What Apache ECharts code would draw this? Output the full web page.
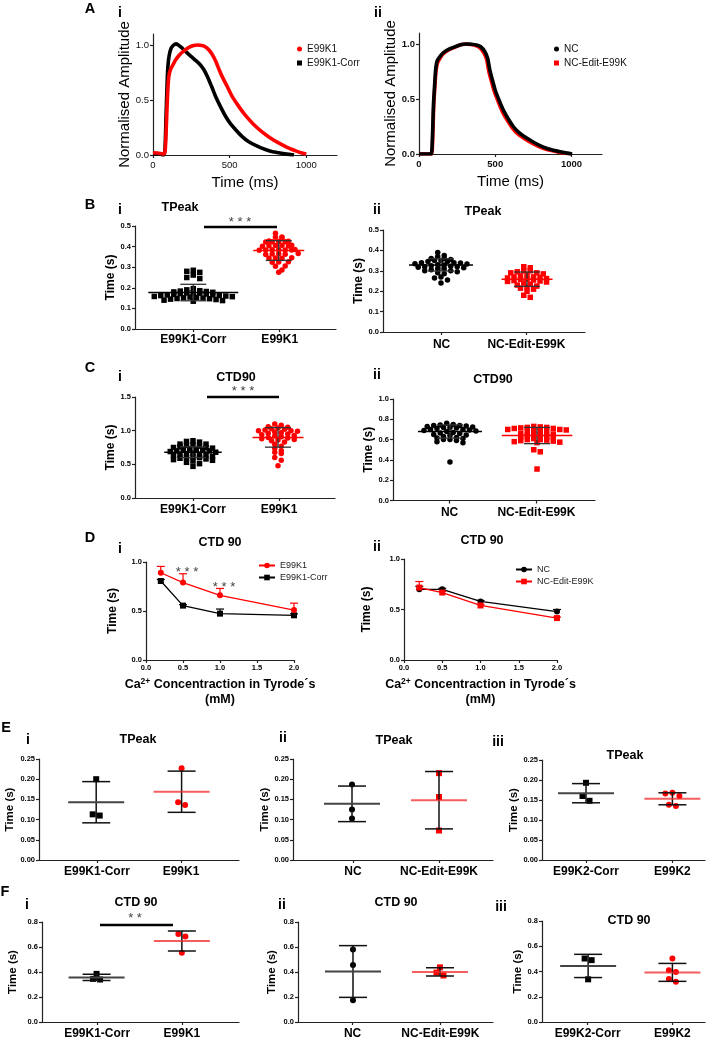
<!DOCTYPE html>
<html><head><meta charset="utf-8">
<script src="https://cdn.jsdelivr.net/npm/echarts@6/dist/echarts.min.js"></script>
<style>html,body{margin:0;padding:0;background:#fff}#c{width:710px;height:1040px}</style>
</head><body><div id="c"></div>
<script>
const FONT = 'Liberation Sans, Arial, Helvetica, sans-serif';
// ================= DATA =================
// Panel A (time ms, normalised amplitude)
const A_xTicks = [0, 500, 1000];
const A_yTicks = [0, 0.5, 1.0];
const A1_e99k1 = [[0,0.02],[30,0.018],[60,0.012],[72,0.01],[80,0.05],[88,0.3],[95,0.55],[103,0.71],[115,0.78],[130,0.82],[150,0.87],[172,0.91],[200,0.945],[237,0.98],[265,0.995],[290,1.0],[320,0.995],[345,0.98],[368,0.95],[388,0.91],[410,0.85],[430,0.78],[452,0.71],[485,0.62],[517,0.53],[560,0.44],[603,0.36],[655,0.28],[711,0.21],[765,0.155],[819,0.11],[875,0.07],[927,0.04],[965,0.02],[1000,0.01]];
const A1_corr = [[0,0.01],[40,0.012],[55,0.005],[70,0.0],[78,0.05],[85,0.35],[92,0.65],[97,0.8],[105,0.9],[118,0.97],[135,1.0],[150,1.01],[165,1.0],[183,0.98],[210,0.945],[237,0.91],[270,0.87],[302,0.83],[330,0.78],[356,0.71],[383,0.62],[409,0.53],[440,0.44],[474,0.35],[505,0.285],[539,0.23],[580,0.17],[625,0.12],[680,0.08],[733,0.05],[780,0.03],[819,0.02],[860,0.01],[905,0.003],[920,0.0]];
const A2_nc = [[0,0.0],[60,0.0],[80,0.0],[88,0.15],[95,0.45],[103,0.64],[110,0.78],[120,0.85],[140,0.89],[158,0.92],[200,0.955],[246,0.98],[280,0.995],[311,1.0],[345,0.997],[377,0.99],[405,0.975],[432,0.93],[450,0.87],[465,0.76],[482,0.67],[500,0.58],[525,0.49],[553,0.4],[585,0.32],[618,0.25],[660,0.19],[706,0.145],[760,0.1],[816,0.063],[870,0.038],[925,0.02],[970,0.008],[1004,0.0]];
const A2_edit = [[0,0.0],[60,0.0],[82,0.0],[90,0.15],[97,0.45],[105,0.63],[112,0.76],[122,0.83],[140,0.875],[158,0.91],[200,0.95],[246,0.978],[280,0.995],[305,1.0],[340,0.995],[372,0.985],[400,0.965],[425,0.92],[443,0.86],[458,0.75],[475,0.66],[493,0.57],[518,0.48],[545,0.39],[577,0.31],[610,0.24],[650,0.18],[697,0.135],[750,0.092],[806,0.057],[860,0.033],[915,0.017],[960,0.007],[1000,0.0]];

// Panel B (TPeak, s)
const B1_cats = ['E99K1-Corr', 'E99K1'];
const B1_corr = [0.285,0.28,0.275,0.262,0.25,0.245,0.196,0.19,0.186,0.184,0.182,0.18,0.178,0.176,0.175,0.174,0.172,0.17,0.168,0.166,0.165,0.163,0.162,0.16,0.158,0.157,0.155,0.154,0.152,0.15,0.148,0.147,0.145,0.143,0.14,0.138,0.135];
const B1_e99k1 = [0.465,0.446,0.445,0.443,0.427,0.426,0.425,0.424,0.423,0.422,0.406,0.405,0.405,0.404,0.403,0.402,0.386,0.385,0.385,0.384,0.384,0.383,0.382,0.366,0.365,0.364,0.363,0.362,0.346,0.345,0.344,0.343,0.326,0.325,0.324,0.306,0.305,0.287,0.276];
const B1_mean = [0.177, 0.381];
const B1_sd = [0.04, 0.048];
const B2_cats = ['NC', 'NC-Edit-E99K'];
const B2_nc = [0.39,0.375,0.37,0.36,0.36,0.355,0.35,0.35,0.345,0.345,0.34,0.34,0.338,0.335,0.333,0.33,0.328,0.325,0.322,0.32,0.32,0.318,0.315,0.31,0.31,0.305,0.3,0.3,0.295,0.29,0.285,0.27,0.265,0.255,0.24];
const B2_edit = [0.32,0.315,0.3,0.3,0.295,0.29,0.29,0.285,0.28,0.275,0.27,0.27,0.268,0.265,0.262,0.26,0.258,0.255,0.252,0.25,0.248,0.245,0.24,0.235,0.23,0.225,0.22,0.215,0.21,0.2,0.18,0.17];
const B2_mean = [0.329, 0.259];
const B2_sd = [0.03, 0.035];

// Panel C (CTD90, s)
const C1_corr = [0.85,0.84,0.83,0.8,0.8,0.79,0.78,0.77,0.76,0.75,0.75,0.74,0.73,0.72,0.72,0.71,0.7,0.7,0.69,0.68,0.67,0.66,0.65,0.65,0.64,0.63,0.62,0.61,0.6,0.6,0.59,0.58,0.57,0.56,0.55,0.53,0.51,0.47];
const C1_e99k1 = [1.1,1.08,1.06,1.05,1.04,1.03,1.02,1.01,1.0,1.0,0.99,0.98,0.97,0.96,0.95,0.94,0.93,0.92,0.91,0.9,0.89,0.88,0.87,0.86,0.85,0.83,0.8,0.77,0.74,0.7,0.68,0.66,0.6,0.56,0.48];
const C1_mean = [0.68, 0.90];
const C1_sd = [0.08, 0.145];
const C2_nc = [0.76,0.75,0.745,0.74,0.74,0.735,0.73,0.725,0.72,0.72,0.715,0.71,0.7,0.7,0.695,0.69,0.685,0.68,0.67,0.665,0.66,0.65,0.645,0.64,0.63,0.62,0.615,0.61,0.6,0.6,0.59,0.58,0.57,0.38];
const C2_edit = [0.73,0.725,0.72,0.72,0.715,0.71,0.71,0.7,0.7,0.695,0.69,0.68,0.675,0.67,0.66,0.655,0.65,0.645,0.64,0.63,0.625,0.62,0.61,0.6,0.6,0.595,0.59,0.585,0.58,0.575,0.57,0.5,0.48,0.31];
const C2_mean = [0.68, 0.64];
const C2_sd = [0.065, 0.08];

// Panel D (CTD 90 vs Ca2+ concentration)
const D_conc = [0.2, 0.5, 1.0, 2.0];
const D1_e99k1 = [0.89, 0.79, 0.66, 0.51];
const D1_e99k1_err = [0.065, 0.09, 0.07, 0.07];
const D1_corr = [0.806, 0.555, 0.473, 0.456];
const D1_corr_err = [0.015, 0.01, 0.047, 0.015];
const D2_nc = [0.70, 0.70, 0.58, 0.48];
const D2_nc_err = [0.03, 0.01, 0.01, 0.02];
const D2_edit = [0.717, 0.668, 0.54, 0.415];
const D2_edit_err = [0.06, 0.01, 0.01, 0.01];

// Panel E (TPeak, s)
const E3_cats = ['E99K2-Corr', 'E99K2'];
const E1_corr = [0.200, 0.113, 0.110];
const E1_e99k1 = [0.227, 0.143, 0.136];
const E1_mean = [0.143, 0.169];
const E1_sd = [0.051, 0.051];
const E2_nc = [0.187, 0.125, 0.103];
const E2_edit = [0.215, 0.156, 0.073];
const E2_mean = [0.139, 0.148];
const E2_sd = [0.044, 0.071];
const E3_corr = [0.193, 0.160, 0.148];
const E3_e99k2 = [0.168, 0.166, 0.160, 0.138, 0.135];
const E3_mean = [0.167, 0.153];
const E3_sd = [0.024, 0.015];

// Panel F (CTD 90, s)
const F1_corr = [0.385, 0.345, 0.340];
const F1_e99k1 = [0.705, 0.685, 0.555];
const F1_mean = [0.357, 0.648];
const F1_sd = [0.025, 0.080];
const F2_nc = [0.58, 0.457, 0.175];
const F2_edit = [0.437, 0.395, 0.372];
const F2_mean = [0.404, 0.401];
const F2_sd = [0.207, 0.033];
const F3_corr = [0.503, 0.49, 0.338];
const F3_e99k2 = [0.503, 0.41, 0.396, 0.34, 0.318];
const F3_mean = [0.444, 0.393];
const F3_sd = [0.092, 0.071];

// ================= BUILD =================
const AX = '#222', AXW = 1.2;
const RED = '#ff0000';
const option = {animation:false, backgroundColor:'#fff', textStyle:{fontFamily:FONT},
  grid:[], xAxis:[], yAxis:[], series:[], legend:[], graphic:{elements:[]}};
const G = option.graphic.elements;
const legendFmt = n => n.split('|')[0];

function txt(text, x, y, size, weight, color){
  G.push({type:'text', x:x, y:y, z:100, style:{text:text, fontSize:size, fontWeight:weight||'bold', fontFamily:FONT, fill:color||'#000', align:'center', verticalAlign:'middle'}});
}
function hline(x1, x2, y, w){
  G.push({type:'line', z:100, shape:{x1:x1,y1:y,x2:x2,y2:y}, style:{stroke:'#000', lineWidth:w||2.5}});
}

function swarm(values, pxPerUnit, rowH, dx){
  const idx = values.map((v,i)=>i).sort((a,b)=>values[b]-values[a]);
  const out = new Array(values.length).fill(0);
  let i = 0;
  while (i < idx.length){
    const v0 = values[idx[i]]; let j = i;
    while (j < idx.length && (v0 - values[idx[j]]) * pxPerUnit < rowH) j++;
    const n = j - i;
    const order = [];
    for (let k=0;k<n;k++) order.push((k-(n-1)/2)*dx);
    order.sort((a,b)=>Math.abs(a)-Math.abs(b));
    for (let k=0;k<n;k++) out[idx[i+k]] = order[k];
    i = j;
  }
  return out;
}

function addCurvePanel(s){
  const gi = option.grid.length, xi = option.xAxis.length, yi = option.yAxis.length;
  option.grid.push({left:s.left, top:s.top, width:s.width, height:s.height});
  option.xAxis.push({type:'value', gridIndex:gi, min:0, max:1200,
    axisLine:{show:true, onZero:false, lineStyle:{color:AX,width:AXW}},
    axisTick:{show:true, length:3, customValues:A_xTicks, lineStyle:{color:AX,width:AXW}},
    axisLabel:{customValues:A_xTicks, formatter:v=>String(v), fontSize:9.5, fontWeight:s.tickWeight, color:'#111', margin:5, fontFamily:FONT},
    splitLine:{show:false},
    name:'Time (ms)', nameLocation:'middle', nameGap:20, nameTextStyle:{fontSize:15, color:'#000', fontFamily:FONT}});
  option.yAxis.push({type:'value', gridIndex:gi, min:0, max:1.1,
    axisLine:{show:true, onZero:false, lineStyle:{color:AX,width:AXW}},
    axisTick:{show:true, length:3, customValues:A_yTicks, lineStyle:{color:AX,width:AXW}},
    axisLabel:{customValues:A_yTicks, formatter:v=>v.toFixed(1), fontSize:9.5, fontWeight:s.tickWeight, color:'#111', margin:4, fontFamily:FONT},
    splitLine:{show:false},
    name:'Normalised Amplitude', nameLocation:'middle', nameGap:s.yNameGap, nameTextStyle:{fontSize:15, color:'#000', fontFamily:FONT}});
  s.curves.forEach(c => option.series.push({type:'line', name:c.name, xAxisIndex:xi, yAxisIndex:yi, data:c.data,
    showSymbol:false, symbol:'none', smooth:0.25, z:c.z, lineStyle:{color:c.color, width:3.6}, itemStyle:{color:c.color}}));
  option.legend.push({left:s.legendLeft, top:s.legendTop, orient:'vertical', itemGap:4, itemWidth:5, itemHeight:5,
    formatter:legendFmt, textStyle:{fontSize:10, color:'#111', fontFamily:FONT}, selectedMode:false,
    data:s.legend.map(l=>({name:l.name, icon:l.icon}))});
}

function addDotPanel(s){
  const gi = option.grid.length, xc = option.xAxis.length, yi = option.yAxis.length;
  option.grid.push({left:s.left, top:s.top, width:s.width, height:s.height});
  const catData = Array.from({length:101}, ()=> '');
  s.fracs.forEach((f,k)=>{ catData[Math.round(f*100)] = s.cats[k]; });
  option.xAxis.push({type:'category', gridIndex:gi, data:catData, boundaryGap:false,
    axisLine:{show:true, onZero:false, lineStyle:{color:AX,width:AXW}},
    axisTick:{show:true, length:3, interval:(i,v)=>v!=='', lineStyle:{color:AX,width:AXW}},
    axisLabel:{interval:(i,v)=>v!=='', margin:s.labelMargin, fontSize:s.catFont||12, fontWeight:'bold', color:'#000', fontFamily:FONT},
    splitLine:{show:false}});
  option.xAxis.push({type:'value', gridIndex:gi, min:0, max:s.width, show:false});
  option.yAxis.push({type:'value', gridIndex:gi, min:0, max:s.yMax, interval:s.yStep,
    axisLine:{show:true, onZero:false, lineStyle:{color:AX,width:AXW}},
    axisTick:{show:true, length:3, lineStyle:{color:AX,width:AXW}},
    axisLabel:{formatter:v=>v.toFixed(s.yDec), fontSize:7.5, fontWeight:'bold', color:'#000', margin:4, fontFamily:FONT},
    splitLine:{show:false},
    name:'Time (s)', nameLocation:'middle', nameGap:s.yNameGap, nameTextStyle:{fontSize:s.yNameFont||12, fontWeight:'bold', color:'#000', fontFamily:FONT}});
  const ppu = s.height / s.yMax;
  const barData = [];
  s.groups.forEach((g,k)=>{
    const center = s.fracs[k] * s.width;
    const offs = swarm(g.values, ppu, s.rowH, s.dx);
    const maxOff = Math.max.apply(null, offs.map(Math.abs));
    option.series.push({type:'scatter', xAxisIndex:xc+1, yAxisIndex:yi, z:3,
      symbol:g.symbol, symbolSize:s.symbolSize, itemStyle:{color:g.color, opacity:1},
      data:g.values.map((v,i)=>[center+offs[i], v])});
    barData.push([center, g.mean, g.sd, s.meanHalf != null ? s.meanHalf : maxOff + 6, s.capHalf, k]);
  });
  const groups = s.groups;
  option.series.push({type:'custom', xAxisIndex:xc+1, yAxisIndex:yi, z:5, data:barData,
    renderItem:(p, api)=>{
      const g = groups[api.value(5)];
      const m = api.coord([api.value(0), api.value(1)]);
      const t = api.coord([api.value(0), api.value(1)+api.value(2)]);
      const b = api.coord([api.value(0), api.value(1)-api.value(2)]);
      const mh = api.value(3), ch = api.value(4);
      const L = (x1,y1,x2,y2,c,w)=>({type:'line', shape:{x1,y1,x2,y2}, style:{stroke:c, lineWidth:w}});
      return {type:'group', children:[
        L(t[0],t[1],b[0],b[1], s.barColor, s.barW),
        L(t[0]-ch,t[1],t[0]+ch,t[1], s.barColor, s.barW),
        L(b[0]-ch,b[1],b[0]+ch,b[1], s.barColor, s.barW),
        L(m[0]-mh,m[1],m[0]+mh,m[1], g.meanColor, s.meanW)
      ]};
    }});
}

function addConcPanel(s){
  const gi = option.grid.length, xi = option.xAxis.length, yi = option.yAxis.length;
  option.grid.push({left:s.left, top:s.top, width:s.width, height:s.height});
  option.xAxis.push({type:'value', gridIndex:gi, min:0, max:2, interval:0.5,
    axisLine:{show:true, onZero:false, lineStyle:{color:AX,width:AXW}},
    axisTick:{show:true, length:3, lineStyle:{color:AX,width:AXW}},
    axisLabel:{formatter:v=>v.toFixed(1), fontSize:7.5, fontWeight:'bold', color:'#000', margin:4, fontFamily:FONT},
    splitLine:{show:false},
    name:'{b|Ca}{s|2+}{b| Concentraction in Tyrode\u00b4s}\n{b|(mM)}', nameLocation:'middle', nameGap:17,
    nameTextStyle:{color:'#000', fontFamily:FONT, align:'center', rich:{
      b:{fontSize:12.5, fontWeight:'bold', lineHeight:15, color:'#000', fontFamily:FONT},
      s:{fontSize:8.5, fontWeight:'bold', lineHeight:15, verticalAlign:'top', color:'#000', fontFamily:FONT}}}});
  option.yAxis.push({type:'value', gridIndex:gi, min:0, max:1, interval:0.5,
    axisLine:{show:true, onZero:false, lineStyle:{color:AX,width:AXW}},
    axisTick:{show:true, length:3, lineStyle:{color:AX,width:AXW}},
    axisLabel:{formatter:v=>v.toFixed(1), fontSize:7.5, fontWeight:'bold', color:'#000', margin:4, fontFamily:FONT},
    splitLine:{show:false},
    name:'Time (s)', nameLocation:'middle', nameGap:s.yNameGap, nameTextStyle:{fontSize:12, fontWeight:'bold', color:'#000', fontFamily:FONT}});
  s.lines.forEach(l=>{
    option.series.push({type:'line', name:l.name, xAxisIndex:xi, yAxisIndex:yi, z:l.z,
      data:D_conc.map((x,i)=>[x, l.vals[i]]), symbol:l.symbol, symbolSize:6, showSymbol:true,
      lineStyle:{color:l.color, width:1.3}, itemStyle:{color:l.color}});
    option.series.push({type:'custom', xAxisIndex:xi, yAxisIndex:yi, z:l.z,
      data:D_conc.map((x,i)=>[x, l.vals[i], l.errs[i]]),
      renderItem:(p, api)=>{
        const a = api.coord([api.value(0), api.value(1)]);
        const b = api.coord([api.value(0), api.value(1)+api.value(2)]);
        return {type:'group', children:[
          {type:'line', shape:{x1:a[0],y1:a[1],x2:b[0],y2:b[1]}, style:{stroke:l.color, lineWidth:1.2}},
          {type:'line', shape:{x1:b[0]-4,y1:b[1],x2:b[0]+4,y2:b[1]}, style:{stroke:l.color, lineWidth:1.2}}]};
      }});
  });
  option.legend.push({left:s.legendLeft, top:s.legendTop, orient:'vertical', itemGap:3, itemWidth:16, itemHeight:7,
    formatter:legendFmt, selectedMode:false, textStyle:{fontSize:9, color:'#222', fontFamily:FONT},
    data:s.lines.map(l=>l.name)});
}

// ---- Panel A ----
addCurvePanel({left:153, top:34, width:184, height:121, tickWeight:'normal', yNameGap:20,
  curves:[{name:'E99K1-Corr|Ai', data:A1_corr, color:'#000', z:2},{name:'E99K1|Ai', data:A1_e99k1, color:RED, z:3}],
  legendLeft:292, legendTop:39, legend:[{name:'E99K1|Ai', icon:'circle'},{name:'E99K1-Corr|Ai', icon:'rect'}]});
addCurvePanel({left:419, top:33, width:183, height:121, tickWeight:'bold', yNameGap:19,
  curves:[{name:'NC-Edit-E99K|Aii', data:A2_edit, color:RED, z:2},{name:'NC|Aii', data:A2_nc, color:'#000', z:3}],
  legendLeft:549, legendTop:39, legend:[{name:'NC|Aii', icon:'circle'},{name:'NC-Edit-E99K|Aii', icon:'rect'}]});

// ---- Panel B ----
const bcCommon = {rowH:4, dx:6.5, symbolSize:5.5, capHalf:13, barColor:'#333', barW:1.3, meanW:1.5, yNameGap:17};
addDotPanel(Object.assign({}, bcCommon, {left:135, top:226, width:201, height:103, yMax:0.5, yStep:0.1, yDec:1, labelMargin:5,
  cats:B1_cats, fracs:[0.29,0.715],
  groups:[{values:B1_corr, mean:B1_mean[0], sd:B1_sd[0], color:'#000', symbol:'rect', meanColor:'#000'},
          {values:B1_e99k1, mean:B1_mean[1], sd:B1_sd[1], color:RED, symbol:'circle', meanColor:RED}]}));
addDotPanel(Object.assign({}, bcCommon, {left:383, top:230, width:202, height:102, yMax:0.5, yStep:0.1, yDec:1, labelMargin:7,
  cats:B2_cats, fracs:[0.287,0.713],
  groups:[{values:B2_nc, mean:B2_mean[0], sd:B2_sd[0], color:'#000', symbol:'circle', meanColor:'#000'},
          {values:B2_edit, mean:B2_mean[1], sd:B2_sd[1], color:RED, symbol:'rect', meanColor:RED}]}));
// ---- Panel C ----
addDotPanel(Object.assign({}, bcCommon, {left:135, top:397, width:200, height:101, yMax:1.5, yStep:0.5, yDec:1, labelMargin:6,
  cats:B1_cats, fracs:[0.29,0.715],
  groups:[{values:C1_corr, mean:C1_mean[0], sd:C1_sd[0], color:'#000', symbol:'rect', meanColor:'#000'},
          {values:C1_e99k1, mean:C1_mean[1], sd:C1_sd[1], color:RED, symbol:'circle', meanColor:RED}]}));
addDotPanel(Object.assign({}, bcCommon, {left:393, top:399, width:202, height:101.5, yMax:1.0, yStep:0.2, yDec:1, labelMargin:6,
  cats:B2_cats, fracs:[0.282,0.713],
  groups:[{values:C2_nc, mean:C2_mean[0], sd:C2_sd[0], color:'#000', symbol:'circle', meanColor:'#000'},
          {values:C2_edit, mean:C2_mean[1], sd:C2_sd[1], color:RED, symbol:'rect', meanColor:RED}]}));

// ---- Panel D ----
addConcPanel({left:146, top:562, width:148, height:98, yNameGap:27, legendLeft:253, legendTop:556,
  lines:[{name:'E99K1|D', vals:D1_e99k1, errs:D1_e99k1_err, color:RED, symbol:'circle', z:3},
         {name:'E99K1-Corr|D', vals:D1_corr, errs:D1_corr_err, color:'#000', symbol:'rect', z:2}]});
addConcPanel({left:404, top:559, width:153, height:101, yNameGap:31, legendLeft:510, legendTop:560,
  lines:[{name:'NC|D', vals:D2_nc, errs:D2_nc_err, color:'#000', symbol:'circle', z:2},
         {name:'NC-Edit-E99K|D', vals:D2_edit, errs:D2_edit_err, color:RED, symbol:'rect', z:3}]});

// ---- Panels E, F ----
const efCommon = {rowH:5, dx:7, symbolSize:6, capHalf:14, meanHalf:28, barColor:'#111', barW:1.5, meanW:2, labelMargin:6, yNameFont:11.5, catFont:12};
const EMEAN_R = 'rgba(240,40,40,0.75)', EMEAN_K = '#444';
addDotPanel(Object.assign({}, efCommon, {left:39, top:759, width:200, height:101, yMax:0.25, yStep:0.05, yDec:2, yNameGap:23,
  cats:B1_cats, fracs:[0.286,0.713],
  groups:[{values:E1_corr, mean:E1_mean[0], sd:E1_sd[0], color:'#000', symbol:'rect', meanColor:EMEAN_K},
          {values:E1_e99k1, mean:E1_mean[1], sd:E1_sd[1], color:RED, symbol:'circle', meanColor:EMEAN_R}]}));
addDotPanel(Object.assign({}, efCommon, {left:293, top:759, width:200, height:101, yMax:0.25, yStep:0.05, yDec:2, yNameGap:19,
  cats:B2_cats, fracs:[0.295,0.73],
  groups:[{values:E2_nc, mean:E2_mean[0], sd:E2_sd[0], color:'#000', symbol:'circle', meanColor:EMEAN_K},
          {values:E2_edit, mean:E2_mean[1], sd:E2_sd[1], color:RED, symbol:'rect', meanColor:EMEAN_R}]}));
addDotPanel(Object.assign({}, efCommon, {left:542, top:760, width:163, height:100, yMax:0.25, yStep:0.05, yDec:2, yNameGap:21,
  cats:E3_cats, fracs:[0.27,0.80],
  groups:[{values:E3_corr, mean:E3_mean[0], sd:E3_sd[0], color:'#000', symbol:'rect', meanColor:EMEAN_K},
          {values:E3_e99k2, mean:E3_mean[1], sd:E3_sd[1], color:RED, symbol:'circle', meanColor:EMEAN_R}]}));
addDotPanel(Object.assign({}, efCommon, {left:42, top:922, width:197, height:100, yMax:0.8, yStep:0.2, yDec:1, yNameGap:23,
  cats:B1_cats, fracs:[0.277,0.71],
  groups:[{values:F1_corr, mean:F1_mean[0], sd:F1_sd[0], color:'#000', symbol:'rect', meanColor:EMEAN_K},
          {values:F1_e99k1, mean:F1_mean[1], sd:F1_sd[1], color:RED, symbol:'circle', meanColor:EMEAN_R}]}));
addDotPanel(Object.assign({}, efCommon, {left:298, top:922, width:195, height:100, yMax:0.8, yStep:0.2, yDec:1, yNameGap:20,
  cats:B2_cats, fracs:[0.282,0.728],
  groups:[{values:F2_nc, mean:F2_mean[0], sd:F2_sd[0], color:'#000', symbol:'circle', meanColor:EMEAN_K},
          {values:F2_edit, mean:F2_mean[1], sd:F2_sd[1], color:RED, symbol:'rect', meanColor:EMEAN_R}]}));
addDotPanel(Object.assign({}, efCommon, {left:542, top:921, width:163, height:101, yMax:0.8, yStep:0.2, yDec:1, yNameGap:15,
  cats:E3_cats, fracs:[0.283,0.80],
  groups:[{values:F3_corr, mean:F3_mean[0], sd:F3_sd[0], color:'#000', symbol:'rect', meanColor:EMEAN_K},
          {values:F3_e99k2, mean:F3_mean[1], sd:F3_sd[1], color:RED, symbol:'circle', meanColor:EMEAN_R}]}));

// ---- Annotations: panel letters, roman numerals, titles, significance ----
[['A',90,9],['B',90,205],['C',90,368],['D',90,538],['E',6,728],['F',5,892]].forEach(a=>txt(a[0],a[1],a[2],14.5,'bold'));
[['i',120,13],['ii',378,13],['i',120,210],['ii',377,210],['i',120,377],['ii',377,375],['i',120,549],['ii',377,547],
 ['i',28,740],['ii',283,738],['iii',498,742],['i',27,905],['ii',282,905],['iii',501,907]].forEach(a=>txt(a[0],a[1],a[2],14,'bold'));
[['TPeak',180,208],['TPeak',483,212],['CTD90',236,378],['CTD90',493,380],['CTD 90',220,543],['CTD 90',482,541],
 ['TPeak',138,740],['TPeak',394,741],['TPeak',625,756],['CTD 90',136,903],['CTD 90',396,903],['CTD 90',629,921]].forEach(a=>txt(a[0],a[1],a[2],12.5,'bold'));
hline(204,277,227); txt('* * *',240,222,13,'normal','#444');
hline(207,279,397); txt('* * *',243,391,13,'normal','#444');
hline(100,173,925); txt('* *',135,918,13,'normal','#444');
txt('* * *',187,572,13,'normal','#444');
txt('* * *',224,587,13,'normal','#444');

const chart = echarts.init(document.getElementById('c'), null, {renderer:'canvas'});
chart.setOption(option);
</script></body></html>
